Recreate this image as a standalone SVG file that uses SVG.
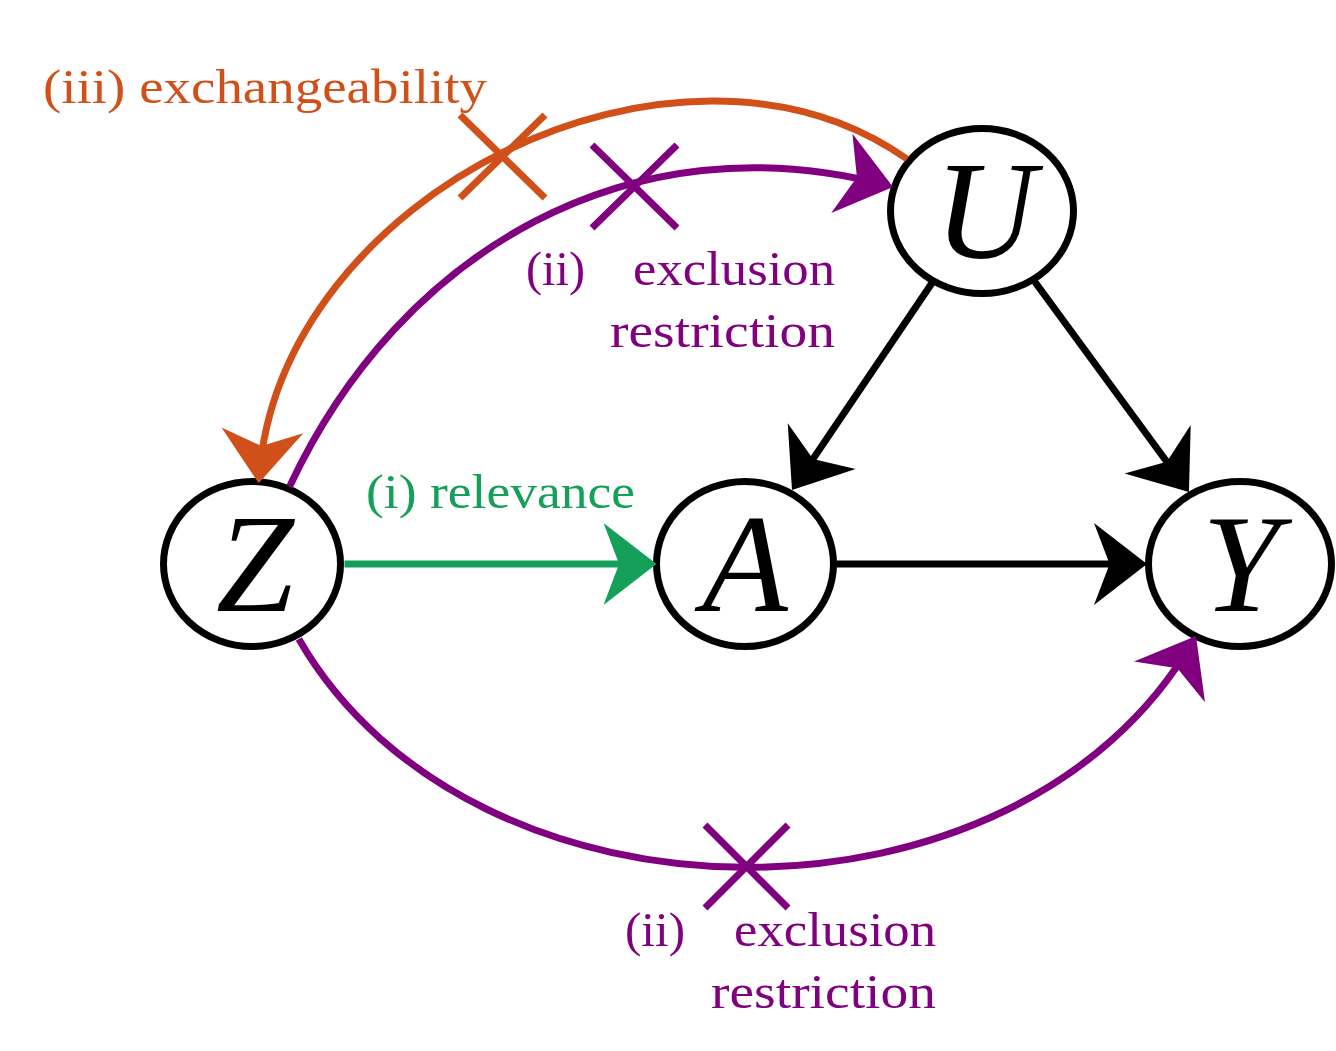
<svg xmlns="http://www.w3.org/2000/svg" width="1336" height="1051" viewBox="0 0 1336 1051">
<style>
.node ellipse{fill:#fff;stroke:#000;stroke-width:7}
.node text{font-family:"Liberation Serif","Times New Roman",serif;font-style:italic;font-size:140px;text-anchor:middle;fill:#000}
.edge{fill:none;stroke-width:7}
.lbl{font-family:"Liberation Serif","Times New Roman",serif;font-size:48px}
.k{stroke:#000}
.g{stroke:#14A058}
.o{stroke:#D1501A}
.p{stroke:#800080}
</style>
<defs>
<marker id="ah-k" viewBox="-50 -45 60 90" refX="0" refY="0" markerWidth="60" markerHeight="90" markerUnits="userSpaceOnUse" orient="auto"><path d="M5,0 L-48,-41 L-32.4,0 L-48,41 Z" fill="#000"/></marker>
<marker id="ah-g" viewBox="-50 -45 60 90" refX="0" refY="0" markerWidth="60" markerHeight="90" markerUnits="userSpaceOnUse" orient="auto"><path d="M5,0 L-48,-41 L-32.4,0 L-48,41 Z" fill="#14A058"/></marker>
<marker id="ah-o" viewBox="-50 -45 60 90" refX="0" refY="0" markerWidth="60" markerHeight="90" markerUnits="userSpaceOnUse" orient="auto"><path d="M5,0 L-48,-41 L-32.4,0 L-48,41 Z" fill="#D1501A"/></marker>
<marker id="ah-p" viewBox="-50 -45 60 90" refX="0" refY="0" markerWidth="60" markerHeight="90" markerUnits="userSpaceOnUse" orient="auto"><path d="M5,0 L-48,-41 L-32.4,0 L-48,41 Z" fill="#800080"/></marker>
</defs>

<g id="node-Z" class="node"><ellipse cx="252" cy="564" rx="88.5" ry="82.5"/><text x="255" y="611">Z</text></g>
<g id="node-A" class="node"><ellipse cx="745" cy="564" rx="88.5" ry="82.5"/><text x="745" y="611">A</text></g>
<g id="node-U" class="node"><ellipse cx="982" cy="211" rx="91.5" ry="82.5"/><text x="985" y="258">U</text></g>
<g id="node-Y" class="node"><ellipse cx="1240" cy="564" rx="91.5" ry="82.5"/><text x="1241" y="611">Y</text></g>

<g id="connectors">
<path class="edge g" d="M344.5,564 L651.5,564" marker-end="url(#ah-g)"/>
<path class="edge k" d="M836.5,564 L1142,564" marker-end="url(#ah-k)"/>
<path class="edge k" d="M932,283 L794.8,485.9" marker-end="url(#ah-k)"/>
<path class="edge k" d="M1035,282 L1186,488" marker-end="url(#ah-k)"/>
<path class="edge o" d="M907.1,159 C677,-2.2 278.85,194.4 259.05,478.2" marker-end="url(#ah-o)"/>
<path class="edge p" d="M289.5,486.8 C400,249.8 632.2,117.1 888.2,185.7" marker-end="url(#ah-p)"/>
<path class="edge p" d="M298.8,639 C473,941 1017.5,945.3 1193.5,640.3" marker-end="url(#ah-p)"/>
<path class="edge o" d="M460,115 L545,198 M545,115 L460,198"/>
<path class="edge p" d="M592,145 L677,228 M677,145 L592,228"/>
<path class="edge p" d="M705,825 L788,908 M788,825 L705,908"/>
</g>

<g id="labels">
<text class="lbl" fill="#D1501A" x="43" y="103" textLength="444" lengthAdjust="spacingAndGlyphs">(iii) exchangeability</text>
<text class="lbl" fill="#14A058" x="366" y="508" textLength="269" lengthAdjust="spacingAndGlyphs">(i) relevance</text>
<text class="lbl" fill="#800080"><tspan x="526" y="285" textLength="59" lengthAdjust="spacingAndGlyphs">(ii)</tspan><tspan x="633" y="285" textLength="202" lengthAdjust="spacingAndGlyphs">exclusion</tspan><tspan x="610" y="347" textLength="225" lengthAdjust="spacingAndGlyphs">restriction</tspan></text>
<text class="lbl" fill="#800080"><tspan x="625" y="946" textLength="60" lengthAdjust="spacingAndGlyphs">(ii)</tspan><tspan x="734" y="946" textLength="202" lengthAdjust="spacingAndGlyphs">exclusion</tspan><tspan x="711" y="1008" textLength="225" lengthAdjust="spacingAndGlyphs">restriction</tspan></text>
</g>
</svg>
